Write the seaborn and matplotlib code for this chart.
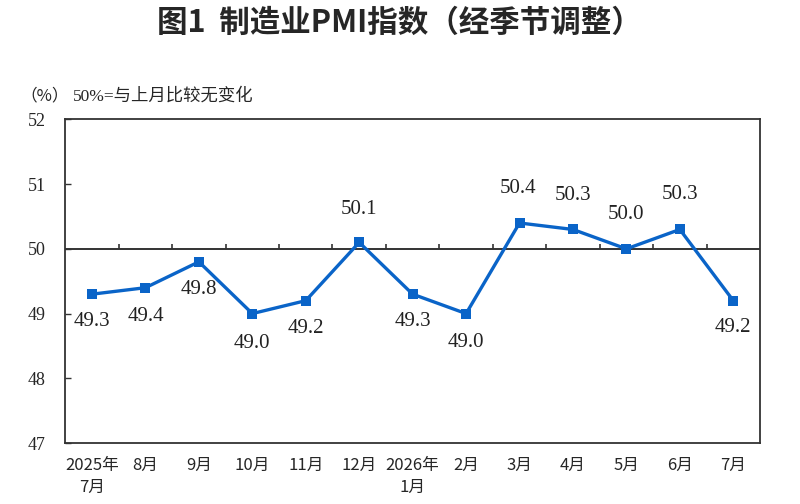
import numpy as np
import pandas as pd
import matplotlib
matplotlib.use("Agg")
import matplotlib.pyplot as plt
import seaborn as sns

# 数据
months = ["2025年\n7月", "8月", "9月", "10月", "11月", "12月", "2026年\n1月",
          "2月", "3月", "4月", "5月", "6月", "7月"]
pmi = [49.3, 49.4, 49.8, 49.0, 49.2, 50.1, 49.3, 49.0, 50.4, 50.3, 50.0, 50.3, 49.2]
# 数值标签的位置 (偏移, 单位 pt)
label_dx = [0, 0, 0, 0, 0, 0, 0, 0, -1, 0, 0, 0, 0]
label_dy = [-20, -21, -20, -21.5, -20, 24, -20, -21, 24.5, 24.5, 24.5, 25, -19.5]

sns.set_theme(style="white")
plt.rcParams['font.family'] = ['Noto Sans CJK SC', 'DejaVu Sans']

serif = ['Liberation Serif', 'Noto Sans CJK SC']
blue = "#0a64c8"

df = pd.DataFrame({"x": np.arange(len(pmi)), "pmi": pmi})

fig = plt.figure(figsize=(8, 5.04), dpi=100)
ax = fig.add_axes([0.0816, 0.121, 0.8684, 0.642])

# 50 基准线和分隔刻度
ax.axhline(50, color="#333333", lw=1.4, zorder=1)
ax.vlines(np.arange(len(pmi) - 1) + 0.5, 50, 50.08, color="#333333", lw=1.2, zorder=1)

sns.lineplot(data=df, x="x", y="pmi", ax=ax, color=blue, lw=2.4,
             marker="s", markersize=7, markeredgewidth=0, markerfacecolor=blue,
             zorder=3)

for i, v in enumerate(pmi):
    ax.annotate(f"{v:.1f}", (i, v), xytext=(label_dx[i], label_dy[i]),
                textcoords="offset points", ha="center", va="center",
                fontsize=15, family=serif, color="#222222")

ax.set_xlim(-0.5, len(pmi) - 0.5)
ax.set_ylim(47, 52)
ax.set_xticks(np.arange(len(pmi)))
ax.set_xticklabels(months, fontsize=12, va="top", linespacing=1.35)
ax.set_yticks([47, 48, 49, 50, 51, 52])
ax.set_yticklabels(["47", "48", "49", "50", "51", "52"], fontsize=13, family=serif)
ax.tick_params(axis="x", length=0, pad=10)
ax.tick_params(axis="y", direction="in", length=4, width=1, color="#333333", pad=14, left=True)
ax.set_xlabel("")
ax.set_ylabel("")
for sp in ax.spines.values():
    sp.set_visible(True)
    sp.set_color("#333333")
    sp.set_linewidth(1.3)

fig.text(0.499, 0.955, "图1  制造业PMI指数（经季节调整）", ha="center", va="center",
         fontsize=22, fontweight="bold")
fig.text(0.026, 0.81, "（%）", ha="left", va="center", fontsize=12,
         family=['Noto Sans CJK SC', 'DejaVu Sans'])
fig.text(0.091, 0.81, "50%=与上月比较无变化", ha="left", va="center", fontsize=12.5, family=serif)

fig.savefig("out.png", dpi=100)
